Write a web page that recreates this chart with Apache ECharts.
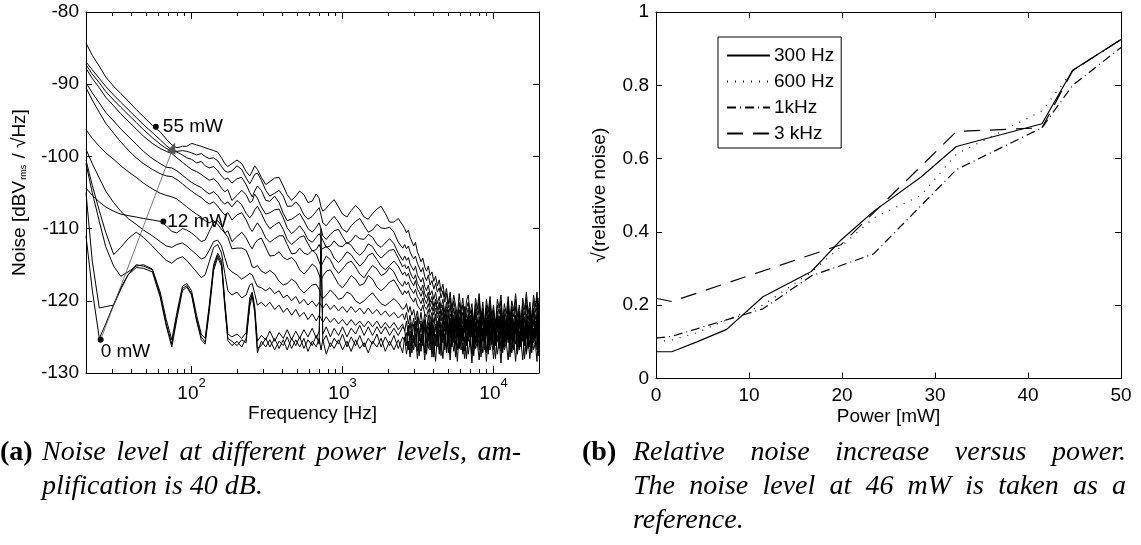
<!DOCTYPE html>
<html>
<head>
<meta charset="utf-8">
<script src="https://cdn.jsdelivr.net/npm/echarts@6/dist/echarts.min.js"></script>
<style>
  html, body { margin: 0; padding: 0; background: #fff; }
  #chart { width: 1141px; height: 545px; }
</style>
</head>
<body>
<div id="chart"></div>
<script>
// ---------- (a) noise spectra: shared frequency grid [Hz] ----------
const freqHz = [
  20, 22, 24.5, 27, 30.5, 34, 38, 43, 48, 55,
  62, 68, 74, 80, 87, 93, 100, 108, 116, 123,
  131, 140, 149, 158, 166, 174, 185, 200, 215, 230,
  243, 252, 262, 273, 290, 310, 330, 355, 380, 405,
  430, 460, 490, 520, 555, 590, 630, 670, 700, 720,
  740, 780, 830, 880, 940, 1000, 1070, 1140, 1220, 1300,
  1390, 1480, 1580, 1690, 1800, 1920, 2050, 2190, 2340, 2500,
  2580, 2650, 2730, 2800, 2880, 2960, 3040, 3130, 3220, 3310,
  3400, 3500, 3600, 3700, 3800, 3910, 4020, 4130, 4250, 4370,
  4490, 4620, 4750, 4880,
  5020, 5160, 5300, 5450, 5600, 5760, 5920, 6090, 6260, 6440,
  6620, 6800, 6990, 7190, 7390, 7600, 7810, 8030, 8260, 8490,
  8730, 8970, 9220, 9480, 9740, 10000, 10300, 10600, 10900, 11200,
  11500, 11800, 12150, 12500, 12850, 13200, 13600, 14000, 14400, 14800,
  15200, 15600, 16050, 16500, 16950, 17400, 17900, 18400, 18900, 19400,
  19700, 20000
];

// Noise density [dBV_rms/sqrt(Hz)] per laser power, one value per grid frequency
const noise_0mW = [
  -111.0, -118.5, -125.2, -123.2, -120.5, -118.2, -116.4, -115.4, -115.5, -116.0,
  -119.5, -123.5, -126.4, -122.5, -118.6, -118.1, -119.2, -122.8, -125.4, -126.0,
  -121.5, -115.8, -114.0, -115.2, -120.8, -125.5, -126.2, -125.6, -126.4, -125.2,
  -120.8, -119.3, -121.6, -127.2, -125.6, -126.4, -125.4, -126.8, -125.6, -126.2,
  -125.0, -126.6, -125.4, -126.4, -125.2, -127.0, -125.6, -126.4, -125.2, -126.8,
  -125.4, -127.4, -125.8, -126.6, -125.4, -126.8, -125.6, -127.0, -125.4, -126.6,
  -125.8, -127.2, -125.6, -126.4, -125.2, -127.0, -125.6, -126.8, -125.4, -127.2,
  -125.0, -127.4, -125.6, -127.8, -125.2, -126.8, -124.6, -128.0, -125.8, -127.0,
  -124.8, -128.2, -125.4, -126.6, -124.4, -127.8, -125.6, -128.4, -124.8, -126.8,
  -125.4, -128.0, -124.6, -127.2,
  -125.2, -128.2, -124.8, -127.0, -125.6, -128.4, -124.6, -126.8, -125.8, -128.0,
  -124.8, -127.4, -125.4, -128.6, -124.6, -126.6, -125.8, -128.2, -124.8, -127.2,
  -125.2, -128.4, -125.0, -126.8, -125.6, -128.0, -124.6, -127.4, -125.4, -128.6,
  -124.8, -126.8, -125.8, -128.2, -124.6, -127.0, -125.2, -128.4, -125.0, -126.6,
  -125.6, -128.2, -124.8, -127.4, -125.4, -128.0, -124.6, -126.8, -125.8, -128.4,
  -125.0, -127.6
];
const noise_1mW = [
  -105.0, -114.5, -121.0, -120.8, -120.6, -118.4, -116.4, -115.0, -115.2, -115.7,
  -119.2, -123.2, -126.0, -122.0, -118.3, -117.9, -119.0, -122.5, -125.0, -125.7,
  -121.0, -115.4, -113.7, -114.8, -120.4, -125.2, -125.6, -126.2, -125.4, -125.8,
  -120.2, -119.0, -121.2, -126.6, -126.2, -125.2, -126.4, -125.2, -126.6, -125.4,
  -126.8, -125.2, -126.2, -125.0, -126.6, -125.4, -126.2, -124.8, -126.0, -110.0,
  -125.6, -124.8, -126.4, -125.2, -126.0, -124.6, -126.4, -125.0, -126.2, -124.8,
  -126.4, -125.2, -126.0, -124.6, -126.4, -125.0, -126.2, -124.8, -126.6, -125.0,
  -125.6, -124.4, -126.8, -124.2, -127.2, -124.8, -126.4, -123.8, -127.6, -124.6,
  -126.2, -123.6, -127.4, -124.4, -126.8, -123.8, -127.8, -124.6, -126.4, -124.0,
  -127.6, -124.2, -126.8, -123.6,
  -127.2, -124.6, -126.0, -124.0, -127.8, -124.4, -126.6, -123.8, -127.4, -125.0,
  -128.0, -124.2, -126.4, -123.8, -127.6, -124.8, -126.2, -124.0, -127.8, -124.4,
  -126.8, -123.6, -127.4, -124.6, -126.0, -124.2, -128.0, -124.8, -126.6, -123.8,
  -127.2, -124.4, -126.2, -124.0, -127.8, -124.6, -126.8, -123.8, -127.4, -124.2,
  -126.4, -124.6, -128.0, -124.0, -126.6, -123.8, -127.2, -124.4, -126.0, -124.2,
  -127.6, -124.6
];
const noise_3mW = [
  -101.0, -105.0, -109.0, -112.5, -115.2, -116.6, -116.0, -115.2, -115.0, -115.6,
  -118.8, -122.6, -125.4, -121.6, -118.0, -117.6, -118.6, -122.0, -124.6, -125.2,
  -120.6, -115.0, -113.4, -114.4, -120.0, -124.6, -125.0, -124.6, -125.2, -124.4,
  -119.6, -118.8, -120.8, -125.6, -124.8, -125.4, -124.2, -125.6, -124.4, -125.2,
  -124.0, -125.4, -124.2, -125.2, -124.0, -125.0, -123.8, -125.2, -124.2, -113.0,
  -124.6, -123.6, -125.0, -123.8, -124.8, -123.6, -125.0, -123.8, -124.6, -123.4,
  -124.8, -123.6, -124.8, -123.6, -124.6, -123.6, -124.8, -123.8, -124.8, -123.6,
  -124.0, -126.2, -123.4, -126.8, -123.8, -125.8, -122.8, -127.0, -124.2, -126.4,
  -123.0, -127.2, -124.0, -125.6, -122.6, -126.8, -123.8, -126.2, -122.8, -127.4,
  -124.2, -125.8, -123.0, -126.6,
  -123.6, -127.2, -122.8, -125.8, -124.0, -126.8, -122.6, -126.2, -123.8, -127.0,
  -123.2, -125.6, -124.2, -127.4, -122.8, -126.0, -123.6, -126.8, -122.6, -125.4,
  -124.0, -127.2, -123.2, -126.2, -122.8, -126.8, -124.2, -125.6, -123.0, -127.0,
  -123.6, -126.4, -122.6, -125.8, -124.0, -127.2, -123.0, -126.0, -123.8, -126.8,
  -122.8, -125.6, -124.2, -127.0, -123.2, -126.4, -122.8, -125.8, -123.8, -126.8,
  -123.2, -126.2
];
const noise_6mW = [
  -100.5, -104.0, -107.5, -110.5, -113.6, -112.6, -111.4, -110.5, -111.2, -112.4,
  -113.6, -114.4, -114.8, -114.2, -113.9, -114.4, -115.2, -116.0, -116.8, -116.4,
  -114.6, -112.6, -112.2, -113.4, -116.2, -118.6, -119.2, -118.8, -119.6, -119.2,
  -117.8, -117.6, -119.0, -120.6, -120.2, -120.8, -120.2, -121.2, -120.6, -121.6,
  -121.0, -122.0, -121.2, -122.2, -121.6, -122.6, -121.8, -122.8, -122.0, -122.4,
  -123.0, -122.2, -123.0, -122.4, -123.2, -122.6, -123.4, -122.6, -123.4, -122.8,
  -123.6, -122.8, -123.6, -122.8, -123.8, -123.0, -123.8, -123.0, -124.0, -123.2,
  -124.2, -122.8, -124.8, -123.0, -125.4, -123.2, -125.0, -122.6, -125.6, -123.4,
  -124.8, -122.8, -125.8, -123.6, -125.2, -123.0, -126.0, -123.4, -125.0, -122.8,
  -125.8, -123.6, -126.2, -123.2,
  -125.4, -123.6, -126.4, -124.0, -125.2, -123.2, -126.6, -124.2, -125.6, -123.4,
  -126.2, -123.8, -125.0, -123.4, -126.6, -124.0, -125.4, -123.2, -126.4, -123.8,
  -125.8, -123.6, -126.8, -124.2, -125.2, -123.4, -126.2, -123.8, -125.6, -123.2,
  -126.6, -124.0, -125.4, -123.6, -126.4, -123.8, -125.0, -123.4, -126.8, -124.2,
  -125.6, -123.6, -126.2, -123.8, -125.4, -123.2, -126.6, -124.0, -125.2, -123.6,
  -126.0, -123.8
];
const noise_9mW = [
  -99.0, -101.0, -103.0, -104.8, -106.4, -107.6, -108.6, -109.4, -110.2, -111.0,
  -111.8, -112.4, -112.6, -112.2, -112.0, -112.4, -113.0, -113.6, -114.2, -114.0,
  -113.0, -111.8, -111.6, -112.4, -114.0, -115.4, -116.0, -116.4, -117.0, -116.6,
  -116.2, -116.4, -117.2, -118.0, -118.2, -118.6, -118.2, -119.0, -118.6, -119.6,
  -119.2, -120.0, -119.4, -120.4, -119.8, -120.6, -120.0, -120.8, -120.2, -120.4,
  -121.0, -120.4, -121.2, -120.6, -121.4, -120.8, -121.6, -120.8, -121.6, -121.0,
  -121.8, -121.0, -121.8, -121.2, -122.0, -121.4, -122.2, -121.6, -122.4, -121.8,
  -122.6, -121.6, -123.2, -122.0, -123.8, -122.4, -124.2, -122.2, -124.6, -122.8,
  -125.0, -122.6, -124.4, -123.0, -125.2, -122.8, -124.8, -123.2, -125.6, -122.6,
  -124.6, -123.4, -125.4, -122.8,
  -125.8, -123.2, -124.6, -122.6, -126.0, -123.6, -125.0, -122.8, -125.6, -123.4,
  -126.2, -122.8, -124.8, -123.6, -125.8, -123.0, -124.6, -122.6, -126.0, -123.8,
  -125.2, -123.0, -125.8, -122.8, -124.8, -123.6, -126.2, -123.2, -125.4, -122.8,
  -125.8, -123.4, -124.8, -123.0, -126.0, -123.6, -125.2, -122.8, -125.6, -123.4,
  -124.6, -123.0, -126.0, -123.2, -125.4, -122.6, -125.6, -123.8, -124.8, -123.0,
  -125.8, -123.2
];
const noise_12mW = [
  -104.4, -105.4, -106.3, -107.0, -107.6, -108.0, -108.2, -108.4, -108.6, -108.8,
  -109.0, -109.6, -110.4, -110.6, -110.0, -110.2, -110.6, -111.2, -111.8, -111.6,
  -110.4, -109.2, -108.9, -109.6, -110.6, -111.2, -112.8, -112.7, -112.7, -113.0,
  -114.2, -115.3, -115.4, -115.1, -115.9, -116.2, -115.8, -116.3, -117.3, -117.8,
  -117.6, -117.0, -117.4, -118.3, -118.9, -118.4, -117.8, -117.7, -118.4, -119.3,
  -119.7, -119.2, -118.5, -119.0, -119.8, -119.6, -118.8, -119.1, -120.0, -120.4,
  -120.0, -119.4, -118.9, -119.7, -120.4, -120.7, -120.2, -119.7, -120.3, -121.2,
  -121.0, -120.4, -121.6, -120.8, -122.0, -121.2, -122.6, -121.4, -123.2, -121.6,
  -123.6, -121.8, -124.0, -122.0, -124.4, -122.2, -123.8, -122.0, -124.6, -122.4,
  -125.0, -122.6, -124.2, -122.0,
  -124.8, -122.8, -125.4, -123.2, -124.0, -122.2, -125.6, -123.4, -124.6, -122.6,
  -125.8, -123.0, -124.2, -122.4, -125.2, -123.6, -126.0, -122.8, -124.8, -122.4,
  -125.4, -123.2, -124.4, -122.6, -126.0, -123.0, -124.8, -122.2, -125.6, -123.4,
  -124.2, -122.8, -125.8, -123.2, -124.6, -122.4, -125.2, -123.6, -124.0, -122.6,
  -125.6, -123.0, -124.8, -122.4, -125.4, -123.2, -124.4, -122.8, -125.0, -123.0,
  -124.6, -122.8
];
const noise_17mW = [
  -96.3, -97.5, -98.6, -99.5, -100.4, -101.3, -102.1, -102.9, -103.7, -104.5,
  -105.1, -105.4, -105.6, -105.9, -106.5, -107.0, -107.5, -108.0, -108.4, -108.9,
  -109.2, -108.9, -109.4, -110.1, -110.6, -110.3, -111.8, -111.1, -110.5, -111.3,
  -112.3, -112.8, -112.1, -111.6, -111.3, -112.6, -113.8, -113.7, -113.2, -114.0,
  -114.3, -114.0, -114.6, -115.7, -116.3, -115.7, -114.9, -115.4, -116.4, -117.2,
  -116.6, -115.9, -115.7, -116.6, -117.7, -118.2, -117.4, -116.5, -117.0, -117.9,
  -117.6, -116.5, -117.0, -118.1, -118.6, -118.1, -117.4, -117.1, -118.1, -119.2,
  -118.6, -119.0, -118.6, -119.4, -119.8, -120.2, -119.6, -120.6, -121.0, -121.4,
  -120.6, -121.8, -122.2, -121.2, -122.6, -121.6, -123.0, -121.8, -123.4, -122.0,
  -123.8, -122.2, -124.0, -122.4,
  -122.0, -124.6, -122.8, -125.4, -123.0, -124.0, -122.2, -125.2, -123.4, -125.8,
  -122.6, -124.4, -122.0, -125.0, -123.6, -126.0, -122.8, -124.2, -122.4, -125.6,
  -123.2, -124.8, -122.2, -125.4, -123.0, -126.2, -122.6, -124.0, -122.2, -125.2,
  -123.4, -125.8, -122.4, -124.6, -122.0, -125.4, -123.2, -124.4, -122.6, -126.0,
  -123.0, -124.8, -122.2, -125.2, -123.4, -124.6, -122.4, -125.6, -122.8, -124.2,
  -122.6, -125.0
];
const noise_22mW = [
  -90.5, -92.2, -93.9, -95.4, -96.8, -98.0, -99.1, -100.2, -101.0, -101.8,
  -102.4, -102.7, -102.8, -103.2, -103.8, -104.3, -104.8, -105.3, -105.7, -106.2,
  -106.6, -106.3, -106.9, -107.6, -108.1, -107.8, -108.8, -108.1, -107.8, -108.8,
  -109.9, -110.4, -109.8, -109.2, -110.0, -111.3, -111.9, -111.4, -111.0, -111.0,
  -112.2, -113.5, -113.4, -112.7, -113.4, -113.6, -113.0, -113.5, -114.6, -115.2,
  -114.7, -113.8, -114.3, -115.4, -116.2, -115.6, -114.8, -114.5, -115.3, -116.3,
  -116.8, -115.9, -115.1, -115.6, -116.5, -116.2, -115.4, -116.0, -117.3, -118.0,
  -117.3, -117.8, -117.4, -118.2, -118.6, -119.0, -118.4, -119.4, -119.8, -120.4,
  -119.6, -120.8, -121.2, -120.4, -121.6, -120.8, -122.0, -121.0, -122.4, -121.4,
  -122.8, -121.6, -123.2, -121.8,
  -124.2, -122.4, -125.2, -122.0, -123.8, -121.6, -124.6, -123.2, -125.6, -122.4,
  -123.6, -121.8, -125.0, -122.8, -124.2, -122.0, -125.4, -123.0, -124.0, -121.6,
  -124.8, -122.4, -125.6, -122.8, -123.6, -121.8, -125.2, -123.0, -124.4, -122.0,
  -125.8, -122.6, -123.8, -121.6, -125.0, -122.8, -124.6, -122.2, -125.4, -122.4,
  -124.0, -121.8, -125.2, -123.0, -124.2, -121.8, -124.8, -122.6, -125.0, -122.2,
  -123.8, -122.6
];
const noise_28mW = [
  -89.8, -91.2, -92.6, -93.9, -95.1, -96.2, -97.2, -98.3, -99.3, -100.3,
  -101.0, -101.5, -101.6, -102.0, -102.6, -103.1, -103.6, -104.0, -104.3, -104.8,
  -105.2, -104.9, -105.4, -106.2, -106.6, -106.3, -107.0, -106.1, -106.7, -107.9,
  -108.5, -108.1, -107.4, -106.9, -107.9, -109.2, -110.0, -109.5, -109.1, -110.1,
  -111.5, -112.2, -111.7, -111.2, -111.0, -112.1, -113.1, -112.9, -112.2, -112.9,
  -113.1, -112.5, -113.0, -114.1, -114.7, -114.1, -113.2, -113.6, -114.5, -115.2,
  -114.6, -113.7, -113.4, -114.3, -115.2, -115.7, -115.1, -114.5, -115.2, -116.4,
  -116.0, -116.6, -116.2, -117.0, -117.5, -117.9, -117.2, -118.4, -118.8, -119.4,
  -118.6, -119.8, -120.4, -119.4, -120.8, -120.0, -121.4, -120.2, -121.8, -120.6,
  -122.2, -121.0, -122.6, -121.2,
  -123.8, -121.8, -122.6, -124.6, -122.2, -125.0, -122.8, -121.6, -124.2, -122.6,
  -125.2, -122.0, -123.6, -121.4, -124.8, -123.0, -125.4, -122.2, -124.0, -121.8,
  -125.0, -122.6, -123.4, -121.6, -124.6, -123.0, -125.6, -122.0, -124.2, -121.8,
  -125.2, -122.8, -124.0, -121.4, -124.8, -122.4, -125.4, -122.0, -123.6, -121.6,
  -124.8, -122.6, -125.0, -121.8, -124.2, -122.4, -124.8, -121.6, -123.8, -122.0,
  -124.4, -122.2
];
const noise_33mW = [
  -87.8, -89.2, -90.5, -91.8, -93.0, -94.1, -95.1, -96.2, -97.2, -98.2,
  -98.9, -99.3, -99.6, -100.2, -100.8, -101.3, -101.8, -102.1, -102.5, -102.9,
  -103.3, -103.1, -103.6, -104.4, -104.9, -104.6, -106.1, -105.4, -104.7, -105.3,
  -106.4, -106.2, -105.2, -105.8, -107.0, -108.0, -107.8, -107.4, -107.3, -108.5,
  -109.9, -110.7, -110.2, -109.6, -110.4, -111.5, -111.9, -111.2, -110.7, -110.5,
  -111.6, -112.6, -112.4, -111.7, -112.4, -112.5, -111.9, -112.3, -113.2, -113.7,
  -113.1, -112.1, -112.5, -113.5, -114.1, -113.5, -113.0, -112.9, -114.1, -115.3,
  -115.0, -115.6, -115.2, -116.0, -116.6, -117.0, -116.4, -117.6, -118.0, -118.6,
  -117.8, -119.0, -119.6, -118.8, -120.2, -119.4, -120.8, -119.8, -121.2, -120.2,
  -121.8, -120.6, -122.2, -120.8,
  -121.2, -123.4, -121.8, -124.2, -121.4, -122.8, -124.6, -121.6, -123.2, -120.8,
  -123.8, -122.2, -124.8, -121.8, -123.0, -121.2, -124.4, -122.6, -125.0, -121.6,
  -123.4, -121.0, -124.6, -122.4, -123.8, -121.2, -125.0, -122.6, -124.0, -121.4,
  -123.6, -121.8, -124.8, -122.0, -123.2, -120.8, -124.4, -122.4, -125.2, -121.6,
  -123.6, -121.2, -124.0, -122.2, -124.6, -121.4, -123.0, -121.0, -123.8, -121.6,
  -122.8, -121.4
];
const noise_42mW = [
  -87.3, -88.6, -89.8, -91.0, -92.2, -93.2, -94.2, -95.3, -96.3, -97.4,
  -98.3, -98.9, -99.2, -99.4, -99.8, -100.2, -100.4, -100.9, -100.7, -101.3,
  -101.6, -101.4, -102.0, -102.7, -103.2, -103.0, -103.7, -103.1, -102.9, -103.9,
  -105.0, -105.6, -104.8, -104.1, -104.7, -106.1, -106.2, -105.5, -106.4, -107.9,
  -108.9, -108.7, -108.3, -107.9, -108.9, -110.0, -110.5, -109.8, -109.2, -110.0,
  -111.0, -111.5, -110.8, -110.3, -110.1, -111.1, -112.1, -111.7, -110.9, -111.4,
  -111.5, -110.8, -111.2, -112.2, -112.6, -112.0, -111.4, -112.1, -113.4, -114.4,
  -113.8, -114.4, -114.0, -114.9, -115.4, -115.8, -115.2, -116.4, -116.9, -117.4,
  -116.8, -118.0, -118.6, -117.8, -119.2, -118.6, -119.8, -118.8, -120.4, -119.4,
  -121.0, -119.8, -121.6, -120.2,
  -122.4, -120.6, -123.2, -121.0, -122.6, -124.0, -121.2, -123.0, -121.6, -124.4,
  -122.0, -121.0, -123.6, -122.0, -124.6, -121.2, -123.0, -120.8, -124.2, -122.0,
  -124.8, -121.4, -123.4, -121.0, -124.2, -122.4, -125.0, -121.4, -122.8, -121.0,
  -124.4, -122.2, -123.6, -121.2, -124.6, -121.6, -123.2, -120.8, -124.0, -122.2,
  -124.8, -121.4, -123.0, -120.6, -123.6, -122.0, -124.2, -121.0, -122.6, -120.6,
  -123.0, -121.4
];
const noise_46mW = [
  -86.9, -88.0, -89.2, -90.3, -91.5, -92.5, -93.5, -94.6, -95.6, -96.7,
  -97.7, -98.5, -99.1, -99.3, -99.2, -99.3, -99.5, -99.8, -99.6, -100.0,
  -100.3, -100.2, -100.6, -101.4, -102.0, -102.2, -102.0, -101.3, -101.8, -103.0,
  -103.8, -103.2, -102.5, -102.3, -103.3, -104.7, -105.5, -105.1, -104.7, -105.5,
  -106.9, -106.9, -106.3, -106.9, -108.1, -108.7, -108.3, -107.6, -107.1, -108.1,
  -109.2, -109.6, -108.9, -108.3, -109.1, -110.1, -110.5, -109.6, -109.0, -108.6,
  -109.6, -110.5, -110.2, -109.4, -109.9, -110.0, -109.8, -110.5, -111.9, -112.7,
  -112.2, -112.8, -112.4, -113.2, -113.8, -114.2, -113.8, -114.8, -115.4, -116.0,
  -115.4, -116.6, -117.2, -116.4, -117.8, -117.2, -118.4, -117.6, -118.8, -118.2,
  -119.6, -118.6, -120.2, -119.0,
  -121.0, -119.6, -122.2, -120.0, -121.4, -123.0, -120.2, -122.0, -120.6, -123.4,
  -121.0, -120.2, -122.6, -121.2, -123.6, -120.4, -122.0, -119.8, -123.0, -121.0,
  -124.0, -120.6, -122.4, -120.2, -123.0, -121.4, -124.2, -120.6, -121.8, -120.0,
  -123.6, -121.2, -122.6, -120.2, -123.4, -120.8, -122.2, -119.8, -123.0, -121.4,
  -124.0, -120.4, -122.0, -119.6, -122.6, -121.0, -123.2, -120.0, -121.6, -119.6,
  -122.0, -120.4
];
const noise_55mW = [
  -84.3, -86.0, -87.5, -89.0, -90.3, -91.3, -92.3, -93.5, -94.5, -95.7,
  -96.6, -97.6, -98.4, -98.8, -98.6, -98.6, -98.2, -98.4, -98.6, -98.8,
  -99.0, -99.2, -99.4, -100.2, -101.0, -101.4, -101.0, -100.5, -101.0, -102.1,
  -102.7, -102.1, -101.3, -101.8, -102.9, -103.9, -103.5, -103.0, -102.9, -104.1,
  -105.3, -106.1, -105.5, -104.8, -105.3, -106.4, -106.2, -105.2, -105.8, -107.0,
  -107.6, -107.2, -106.5, -106.0, -107.0, -108.0, -108.4, -107.5, -106.8, -107.4,
  -108.4, -108.7, -107.9, -107.3, -106.9, -107.9, -109.1, -109.1, -108.6, -109.5,
  -110.0, -110.6, -110.2, -111.2, -111.8, -112.4, -111.9, -113.2, -113.9, -114.6,
  -114.1, -115.3, -115.9, -115.2, -116.5, -116.0, -117.3, -116.6, -117.9, -117.1,
  -118.7, -117.7, -119.5, -118.3,
  -120.4, -118.8, -121.2, -119.2, -120.6, -122.0, -119.0, -121.4, -119.6, -122.6,
  -120.0, -119.2, -121.8, -120.4, -123.0, -119.6, -121.2, -119.0, -122.4, -120.2,
  -123.2, -119.8, -121.6, -119.4, -122.2, -120.6, -123.4, -119.8, -121.0, -119.2,
  -122.8, -120.4, -121.8, -119.4, -122.6, -120.0, -121.4, -119.0, -122.2, -120.6,
  -123.0, -119.6, -121.2, -118.8, -121.8, -120.2, -122.4, -119.2, -120.8, -118.8,
  -121.2, -119.6
];

const spectra = [
  { power: 0, db: noise_0mW }, { power: 1, db: noise_1mW }, { power: 3, db: noise_3mW },
  { power: 6, db: noise_6mW }, { power: 9, db: noise_9mW }, { power: 12, db: noise_12mW },
  { power: 17, db: noise_17mW }, { power: 22, db: noise_22mW }, { power: 28, db: noise_28mW },
  { power: 33, db: noise_33mW }, { power: 42, db: noise_42mW }, { power: 46, db: noise_46mW },
  { power: 55, db: noise_55mW }
];

// Labelled points on the spectra and the arrow of increasing power
const markerText = ['55 mW', '12 mW', '0 mW'];
const markerFreqHz = [58, 65, 25];
const markerDb = [-95.9, -109.0, -125.4];
const arrowFrom = [25, -125.4];
const arrowTo = [75.5, -98.8];

// Log-axis ticks
const decadeTicksHz = [100, 1000, 10000];
const minorTicksHz = [30, 40, 50, 60, 70, 80, 90, 200, 300, 400, 500, 600, 700, 800, 900,
  2000, 3000, 4000, 5000, 6000, 7000, 8000, 9000];

// ---------- (b) relative noise versus power ----------
const power300 = [0, 1.7, 4.4, 7.6, 11.5, 16.7, 19.9, 23.4, 28.5, 32.3, 41.5, 44.8, 50];
const rel300   = [0.073, 0.073, 0.10, 0.134, 0.223, 0.292, 0.378, 0.456, 0.55, 0.633, 0.695, 0.841, 0.925];
const power600 = [0, 1.7, 4.4, 7.6, 11.5, 16.7, 19.9, 23.4, 28.5, 32.3, 41.5, 44.8, 50];
const rel600   = [0.10, 0.105, 0.125, 0.16, 0.20, 0.29, 0.36, 0.438, 0.50, 0.612, 0.73, 0.84, 0.925];
const power1k  = [0, 1.7, 11.5, 16.7, 23.4, 32.3, 41.5, 44.8, 50];
const rel1k    = [0.11, 0.115, 0.19, 0.28, 0.34, 0.57, 0.684, 0.80, 0.903];
const power3k  = [0, 1.7, 19.9, 32.3, 41.5, 44.8, 50];
const rel3k    = [0.219, 0.21, 0.365, 0.674, 0.684, 0.84, 0.925];

// ---------- styling ----------
const SANS = '"Liberation Sans", Arial, sans-serif';
const BLACK = '#000';
const AX_FONT = 19;

function pairs(xs, ys) { return xs.map((x, i) => [x, ys[i]]); }

function boxAxisLine() { return { show: true, onZero: false, lineStyle: { color: BLACK, width: 1 } }; }

function logAxis(position, ticks, len, withLabels, withLine) {
  const ax = {
    type: 'log', logBase: 10, gridIndex: 0, min: 20, max: 20000, position: position,
    axisLine: withLine ? boxAxisLine() : { show: false },
    axisTick: { show: true, inside: true, length: len, customValues: ticks, lineStyle: { color: BLACK, width: 1 } },
    axisLabel: { show: false },
    splitLine: { show: false }, minorTick: { show: false }, minorSplitLine: { show: false }
  };
  if (withLabels) {
    ax.axisLabel = {
      show: true, customValues: ticks, margin: 4, color: BLACK,
      formatter: v => '{b|10}{e|' + Math.round(Math.log10(v)) + '}',
      rich: {
        b: { fontSize: AX_FONT, fontFamily: SANS, color: BLACK, lineHeight: 26, verticalAlign: 'bottom' },
        e: { fontSize: 13, fontFamily: SANS, color: BLACK, lineHeight: 26, verticalAlign: 'top' }
      }
    };
    ax.name = 'Frequency [Hz]';
    ax.nameLocation = 'middle';
    ax.nameGap = 30;
    ax.nameMoveOverlap = false;
    ax.nameTextStyle = { fontSize: AX_FONT, fontFamily: SANS, color: BLACK, verticalAlign: 'top', lineHeight: 22 };
  }
  return ax;
}

function valueAxis(extra) {
  return Object.assign({
    type: 'value',
    axisLine: boxAxisLine(),
    axisTick: { show: true, inside: true, length: 6, lineStyle: { color: BLACK, width: 1 } },
    axisLabel: { show: false },
    splitLine: { show: false }
  }, extra);
}

const labelStyle = { show: true, fontSize: AX_FONT, fontFamily: SANS, color: BLACK, margin: 7 };

// ---------- captions (justified text lines) ----------
const measureCtx = document.createElement('canvas').getContext('2d');
const CAP_SIZE = 28;
const SERIF = '"Liberation Serif", "DejaVu Serif", serif';

function captionWords(words, fontStyle, fontWeight, x0, x1, y) {
  measureCtx.font = fontStyle + ' ' + fontWeight + ' ' + CAP_SIZE + 'px ' + SERIF;
  const widths = words.map(w => measureCtx.measureText(w).width);
  const total = widths.reduce((a, b) => a + b, 0);
  const gap = (x1 === null || words.length < 2)
    ? measureCtx.measureText(' ').width
    : (x1 - x0 - total) / (words.length - 1);
  let x = x0;
  return words.map((w, i) => {
    const el = {
      type: 'text', x: x, y: y, silent: true,
      style: { text: w, fontSize: CAP_SIZE, fontFamily: SERIF, fontStyle: fontStyle,
               fontWeight: fontWeight, fill: BLACK, verticalAlign: 'middle' }
    };
    x += widths[i] + gap;
    return el;
  });
}

const captionGraphics = [].concat(
  captionWords(['(a)'], 'normal', 'bold', 0, null, 453),
  captionWords('Noise level at different power levels, am-'.split(' '), 'italic', 'normal', 42, 521, 453),
  captionWords('plification is 40 dB.'.split(' '), 'italic', 'normal', 42, null, 487),
  captionWords(['(b)'], 'normal', 'bold', 582, null, 453),
  captionWords('Relative noise increase versus power.'.split(' '), 'italic', 'normal', 633, 1126, 453),
  captionWords('The noise level at 46 mW is taken as a'.split(' '), 'italic', 'normal', 633, 1126, 487),
  captionWords(['reference.'], 'italic', 'normal', 633, null, 521)
);

// ---------- chart ----------
const chart = echarts.init(document.getElementById('chart'), null, { renderer: 'canvas' });

const spectrumSeries = spectra.map(s => ({
  type: 'line', name: s.power + ' mW', xAxisIndex: 0, yAxisIndex: 0,
  data: pairs(freqHz, s.db), symbol: 'none', silent: true,
  lineStyle: { color: BLACK, width: 1 }, z: 2
}));

const markerSeries = {
  type: 'scatter', name: 'markers', xAxisIndex: 0, yAxisIndex: 0, silent: true, z: 5,
  symbol: 'circle', symbolSize: 6, itemStyle: { color: BLACK, opacity: 1 },
  data: markerText.map((t, i) => {
    const item = { value: [markerFreqHz[i], markerDb[i]], name: t };
    if (t === '0 mW') {
      item.label = { position: [3, 5], align: 'left', verticalAlign: 'top' };
    } else if (t === '12 mW') {
      item.label = { position: 'right', distance: 1 };
    } else {
      item.label = { position: 'right', distance: 4 };
    }
    return item;
  }),
  label: { show: true, formatter: p => p.name, fontSize: AX_FONT, fontFamily: SANS, color: BLACK, opacity: 1 },
  markLine: {
    silent: true, symbol: ['none', 'triangle'], symbolSize: [9, 11],
    lineStyle: { color: '#555', width: 0.8, type: 'solid', opacity: 1 },
    label: { show: false },
    data: [[{ coord: arrowFrom }, { coord: arrowTo }]]
  }
};

const lineSeries = [
  { name: '300 Hz', data: pairs(power300, rel300), type: 'solid' },
  { name: '600 Hz', data: pairs(power600, rel600), type: [1, 7] },
  { name: '1kHz',   data: pairs(power1k, rel1k),   type: [9, 4, 1, 4] },
  { name: '3 kHz',  data: pairs(power3k, rel3k),   type: [16, 10] }
].map(s => ({
  type: 'line', name: s.name, xAxisIndex: 4, yAxisIndex: 2, data: s.data,
  symbol: 'none', silent: true, itemStyle: { color: BLACK },
  lineStyle: { color: BLACK, width: 1.2, type: s.type }, z: 3
}));

const option = {
  animation: false,
  backgroundColor: '#fff',
  textStyle: { fontFamily: SANS, color: BLACK },
  grid: [
    { left: 86, top: 12, width: 453, height: 361, outerBoundsMode: 'none' },
    { left: 656, top: 12, width: 465, height: 366.5, outerBoundsMode: 'none' }
  ],
  legend: {
    data: ['300 Hz', '600 Hz', '1kHz', '3 kHz'],
    orient: 'vertical', left: 718, top: 37,
    itemWidth: 43, itemHeight: 14, itemGap: 7,
    padding: [9, 7, 5, 8],
    borderColor: BLACK, borderWidth: 1, backgroundColor: '#fff',
    itemStyle: { opacity: 0 },
    textStyle: { fontSize: AX_FONT, fontFamily: SANS, color: BLACK, padding: [0, 0, 0, -1] },
    selectedMode: false
  },
  xAxis: [
    logAxis('bottom', decadeTicksHz, 7, true, true),
    logAxis('bottom', minorTicksHz, 4, false, false),
    logAxis('top', decadeTicksHz, 7, false, true),
    logAxis('top', minorTicksHz, 4, false, false),
    valueAxis({
      gridIndex: 1, min: 0, max: 50, interval: 10, position: 'bottom',
      axisLabel: Object.assign({}, labelStyle, { margin: 8 }),
      name: 'Power [mW]', nameLocation: 'middle', nameGap: 27.5, nameMoveOverlap: false,
      nameTextStyle: { fontSize: AX_FONT, fontFamily: SANS, color: BLACK, verticalAlign: 'top', lineHeight: 22 }
    }),
    valueAxis({ gridIndex: 1, min: 0, max: 50, interval: 10, position: 'top' })
  ],
  yAxis: [
    valueAxis({
      gridIndex: 0, min: -130, max: -80, interval: 10, position: 'left',
      axisLabel: labelStyle,
      name: 'Noise [dBV{s|rms} / √Hz]', nameLocation: 'middle', nameGap: 57,
      nameTextStyle: {
        fontSize: AX_FONT, fontFamily: SANS, color: BLACK,
        rich: {
          s: { fontSize: 9, fontFamily: SANS, color: BLACK, padding: [9, 1, 0, 1] }
        }
      }
    }),
    valueAxis({ gridIndex: 0, min: -130, max: -80, interval: 10, position: 'right' }),
    valueAxis({
      gridIndex: 1, min: 0, max: 1, interval: 0.2, position: 'left',
      axisLabel: labelStyle,
      name: '√(relative noise)', nameLocation: 'middle', nameGap: 47,
      nameTextStyle: { fontSize: AX_FONT, fontFamily: SANS, color: BLACK }
    }),
    valueAxis({ gridIndex: 1, min: 0, max: 1, interval: 0.2, position: 'right' })
  ],
  series: spectrumSeries.concat([markerSeries], lineSeries),
  graphic: captionGraphics
};

chart.setOption(option);
</script>
</body>
</html>
